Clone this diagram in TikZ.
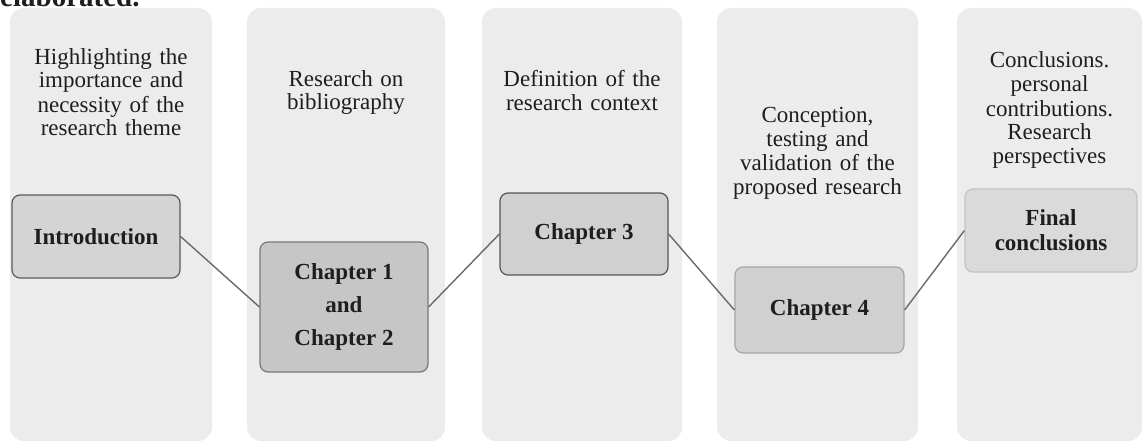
\documentclass[tikz,border=0pt]{standalone}
\usepackage{fontspec}
\setmainfont{Liberation Serif}
\definecolor{colfill}{HTML}{ECECEC}
\definecolor{txt}{HTML}{1E1E1E}
\definecolor{linkc}{HTML}{6A6A6A}
\tikzset{
  column/.style={fill=colfill, rounded corners=14pt},
  heading/.style={anchor=base, text width=200pt, align=center, inner sep=0pt, text=txt,
    font=\fontsize{23}{24}\selectfont},
  chapbox/.style={rounded corners=8pt, line width=1.2pt, text=txt, align=center,
    font=\fontsize{23}{25}\selectfont\bfseries, inner sep=0pt},
  link/.style={draw=linkc, line width=1.4pt}
}
\begin{document}
\begin{tikzpicture}[x=1pt,y=-1pt]
\path[use as bounding box] (0,0) rectangle (1146,444);
\clip (0,0) rectangle (1146,444);
\fill[white] (0,0) rectangle (1146,444);
% cut-off text line above the figure
\node[anchor=base west, inner sep=0pt, text=txt, font=\fontsize{29}{30}\selectfont\bfseries] (prev) at (0,7) {elaborated.};
% columns
\fill[column] (10,8) rectangle (212,441);
\fill[column] (247,8) rectangle (445,441);
\fill[column] (482,8) rectangle (682,441);
\fill[column] (717,8) rectangle (918,441);
\fill[column] (957,8) rectangle (1142,441);
% headings
\node[heading] (h1) at (111,64) {Highlighting the\\importance and\\necessity of the\\research theme};
\node[heading] (h2) at (346,86) {Research on\\bibliography};
\node[heading] (h3) at (582,87) {Definition of the\\research context};
\node[heading] (h4) at (817.5,122) {Conception,\\testing and\\validation of the\\proposed research};
\node[heading] (h5) at (1049.5,68) {Conclusions.\\personal\\contributions.\\Research\\perspectives};
% boxes
\node[chapbox, fill={rgb,255:red,212;green,212;blue,212}, draw={rgb,255:red,90;green,90;blue,90},
  minimum width=168pt, minimum height=83pt] (intro) at (96,236.5) {Introduction};
\node[chapbox, fill={rgb,255:red,198;green,198;blue,198}, draw={rgb,255:red,120;green,120;blue,120},
  minimum width=168pt, minimum height=130pt, font=\fontsize{23}{33}\selectfont\bfseries] (ch12) at (344,307) {Chapter 1\\and\\Chapter 2};
\node[chapbox, fill={rgb,255:red,208;green,208;blue,208}, draw={rgb,255:red,85;green,85;blue,85},
  minimum width=168pt, minimum height=82pt] (ch3) at (584,234) {Chapter 3};
\node[chapbox, fill={rgb,255:red,208;green,208;blue,208}, draw={rgb,255:red,165;green,165;blue,165},
  minimum width=169pt, minimum height=86pt] (ch4) at (819.5,310) {Chapter 4};
\node[chapbox, fill={rgb,255:red,218;green,218;blue,218}, draw={rgb,255:red,195;green,195;blue,195},
  minimum width=172pt, minimum height=83pt] (final) at (1051,230.5) {Final\\conclusions};
% connectors
\draw[link] (intro.east) -- (ch12.west);
\draw[link] (ch12.east) -- (ch3.west);
\draw[link] (ch3.east) -- (ch4.west);
\draw[link] (ch4.east) -- (final.west);
\end{tikzpicture}
\end{document}
